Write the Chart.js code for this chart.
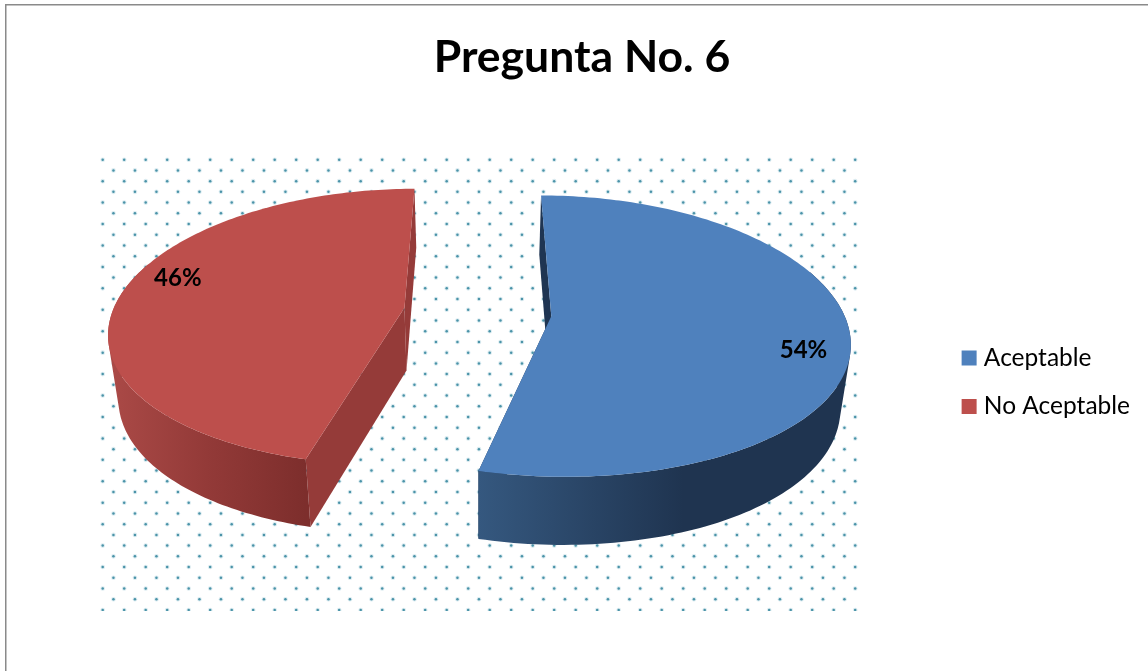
<!DOCTYPE html>
<html>
    <head>
        <title>Pregunta No. 6</title>
        <script src="https://cdn.jsdelivr.net/npm/chart.js@4/dist/chart.umd.min.js" type="text/javascript"></script>
        <style>
            html, body { margin: 0; padding: 0; background: #fff; }
            canvas { display: block; }
        </style>
    </head>

    <body>
        <canvas id="pie" width="1148" height="671"></canvas>
    </body>

    <script>
        const categories = ["Aceptable", "No Aceptable"];
        const answers = [54, 46];
        const sliceColors = ["#4f81bd", "#bd4f4c"];
        const cutColors = ["#1f3552", "#953b39"];
        const wallStops = [
            [[0, "#35587f"], [0.55, "#1f3450"], [1, "#1f3450"]],
            [[0, "#ab4a47"], [0.5, "#933a38"], [1, "#7d2e2c"]]
        ];

        // view of the flat pie, tilted back with a bit of perspective
        const view = { cx: 477.5, cy: 312, tilt: 0.468, perspX: 0.16, perspY: 0.14, depth: 63, shrink: 0.972 };
        const dots = { left: 100, right: 858, top: 156, bottom: 611, stepX: 21.5, stepY: 10.72, x0: 102.7, y0: 159.7 };

        function project(wx, wy, R) {
            let sx = 1 / (1 - view.perspX * wy / R);
            let sy = 1 / (1 - view.perspY * wy / R);
            let x = wx * sx, y = view.tilt * wy * sy;
            return {
                x: view.cx + x,
                y: view.cy + y,
                bx: view.cx + x * view.shrink,
                by: view.cy + y + view.depth * Math.sqrt(sy)
            };
        }

        function onSlice(arc, angle, frac) {
            let mid = (arc.startAngle + arc.endAngle) / 2;
            let off = arc.options.offset / 4;
            let R = arc.outerRadius;
            return project(
                Math.cos(mid) * off + Math.cos(angle) * R * frac,
                Math.sin(mid) * off + Math.sin(angle) * R * frac,
                R
            );
        }

        function poly(ctx, pts, fill) {
            ctx.beginPath();
            pts.forEach((p, i) => i ? ctx.lineTo(p[0], p[1]) : ctx.moveTo(p[0], p[1]));
            ctx.closePath();
            ctx.fillStyle = fill;
            ctx.fill();
        }

        // all strips must wind the same way or they cancel out in one path
        function addQuad(ctx, a, b, c, d) {
            let pts = [a, b, c, d];
            let area = 0;
            pts.forEach((p, i) => {
                let n = pts[(i + 1) % 4];
                area += p[0] * n[1] - n[0] * p[1];
            });
            if (area < 0) pts.reverse();
            pts.forEach((p, i) => i ? ctx.lineTo(p[0], p[1]) : ctx.moveTo(p[0], p[1]));
            ctx.closePath();
        }

        const frame3d = {
            id: "frame3d",
            beforeDraw(chart) {
                let ctx = chart.ctx;
                ctx.save();
                ctx.fillStyle = "#8a8a8a";
                ctx.fillRect(5, 4, 1148, 1.5);
                ctx.fillRect(5, 4, 1.5, 671);

                ctx.beginPath();
                ctx.rect(dots.left, dots.top, dots.right - dots.left, dots.bottom - dots.top);
                ctx.clip();
                let row = 0;
                for (let y = dots.y0; y < dots.bottom + 3; y += dots.stepY, row++) {
                    let x = dots.x0 + (row % 2 ? dots.stepX / 2 : 0);
                    for (; x < dots.right + 3; x += dots.stepX) {
                        ctx.fillStyle = "rgba(75,155,180,0.2)";
                        ctx.beginPath();
                        ctx.arc(x, y, 2.3, 0, Math.PI * 2);
                        ctx.fill();
                        ctx.fillStyle = "#4a93a8";
                        ctx.beginPath();
                        ctx.arc(x, y, 1.25, 0, Math.PI * 2);
                        ctx.fill();
                    }
                }
                ctx.restore();
            },
            beforeDatasetDraw(chart, args) {
                let ctx = chart.ctx;
                let arcs = args.meta.data;
                const steps = 160;
                ctx.save();
                for (let i = arcs.length - 1; i >= 0; i--) {
                    let arc = arcs[i];
                    let edge = [];
                    for (let j = 0; j <= steps; j++) {
                        let a = arc.startAngle + (arc.endAngle - arc.startAngle) * j / steps;
                        let p = onSlice(arc, a, 1);
                        p.facing = Math.sin(a) > -0.35;
                        edge.push(p);
                    }
                    let apex = onSlice(arc, arc.startAngle, 0);
                    let first = edge[0], last = edge[steps];

                    [first, last].forEach(p => poly(ctx, [[apex.x, apex.y], [p.x, p.y], [p.bx, p.by], [apex.bx, apex.by]], cutColors[i]));

                    // outer wall strip by strip in one path, so the silhouette stays straight at the sides
                    let front = edge.filter(p => p.facing);
                    let xs = front.map(p => p.x);
                    let grad = ctx.createLinearGradient(Math.min(...xs), 0, Math.max(...xs), 0);
                    wallStops[i].forEach(s => grad.addColorStop(s[0], s[1]));
                    ctx.beginPath();
                    for (let j = 0; j < steps; j++) {
                        let p = edge[j], q = edge[j + 1];
                        if (!p.facing || !q.facing) continue;
                        addQuad(ctx, [p.x, p.y], [q.x, q.y], [q.bx, q.by], [p.bx, p.by]);
                    }
                    ctx.fillStyle = grad;
                    ctx.fill();

                    poly(ctx, [[apex.x, apex.y]].concat(edge.map(p => [p.x, p.y])), arc.options.backgroundColor);
                }

                // percentage labels
                let total = answers.reduce((a, b) => a + b, 0);
                ctx.fillStyle = "#000";
                ctx.font = "bold 24px Lato";
                ctx.textAlign = "center";
                ctx.textBaseline = "middle";
                arcs.forEach((arc, i) => {
                    let a = (arc.startAngle + arc.endAngle) / 2 + 0.15;
                    let p = onSlice(arc, a, 0.85);
                    ctx.fillText(Math.round(answers[i] / total * 100) + "%", p.x, p.y + 1);
                });
                ctx.restore();
                return false;
            }
        };

        document.addEventListener("DOMContentLoaded", () => {
            const pie = new Chart(document.getElementById("pie"), {
                type: "pie",
                data: {
                    labels: categories,
                    datasets: [{
                        data: answers,
                        backgroundColor: sliceColors,
                        borderWidth: 0,
                        offset: 296,
                        radius: 292
                    }]
                },
                options: {
                    responsive: false,
                    animation: false,
                    events: [],
                    layout: { padding: { left: 24, right: 8, top: 0, bottom: 42 } },
                    plugins: {
                        tooltip: { enabled: false },
                        title: {
                            display: true,
                            text: "Pregunta No. 6",
                            color: "#000",
                            font: { family: "Lato", size: 44.5, weight: "bold" },
                            padding: { top: 31, bottom: 51 }
                        },
                        legend: {
                            position: "right",
                            fullSize: false,
                            labels: {
                                color: "#000",
                                font: { family: "Lato", size: 24.5 },
                                padding: 24,
                                boxWidth: 5,
                                boxHeight: 5,
                                generateLabels(chart) {
                                    return categories.map((c, i) => ({
                                        text: c,
                                        fillStyle: sliceColors[i],
                                        strokeStyle: sliceColors[i],
                                        lineWidth: 10,
                                        index: i
                                    }));
                                }
                            }
                        }
                    }
                },
                plugins: [frame3d]
            });
        });
    </script>
</html>
